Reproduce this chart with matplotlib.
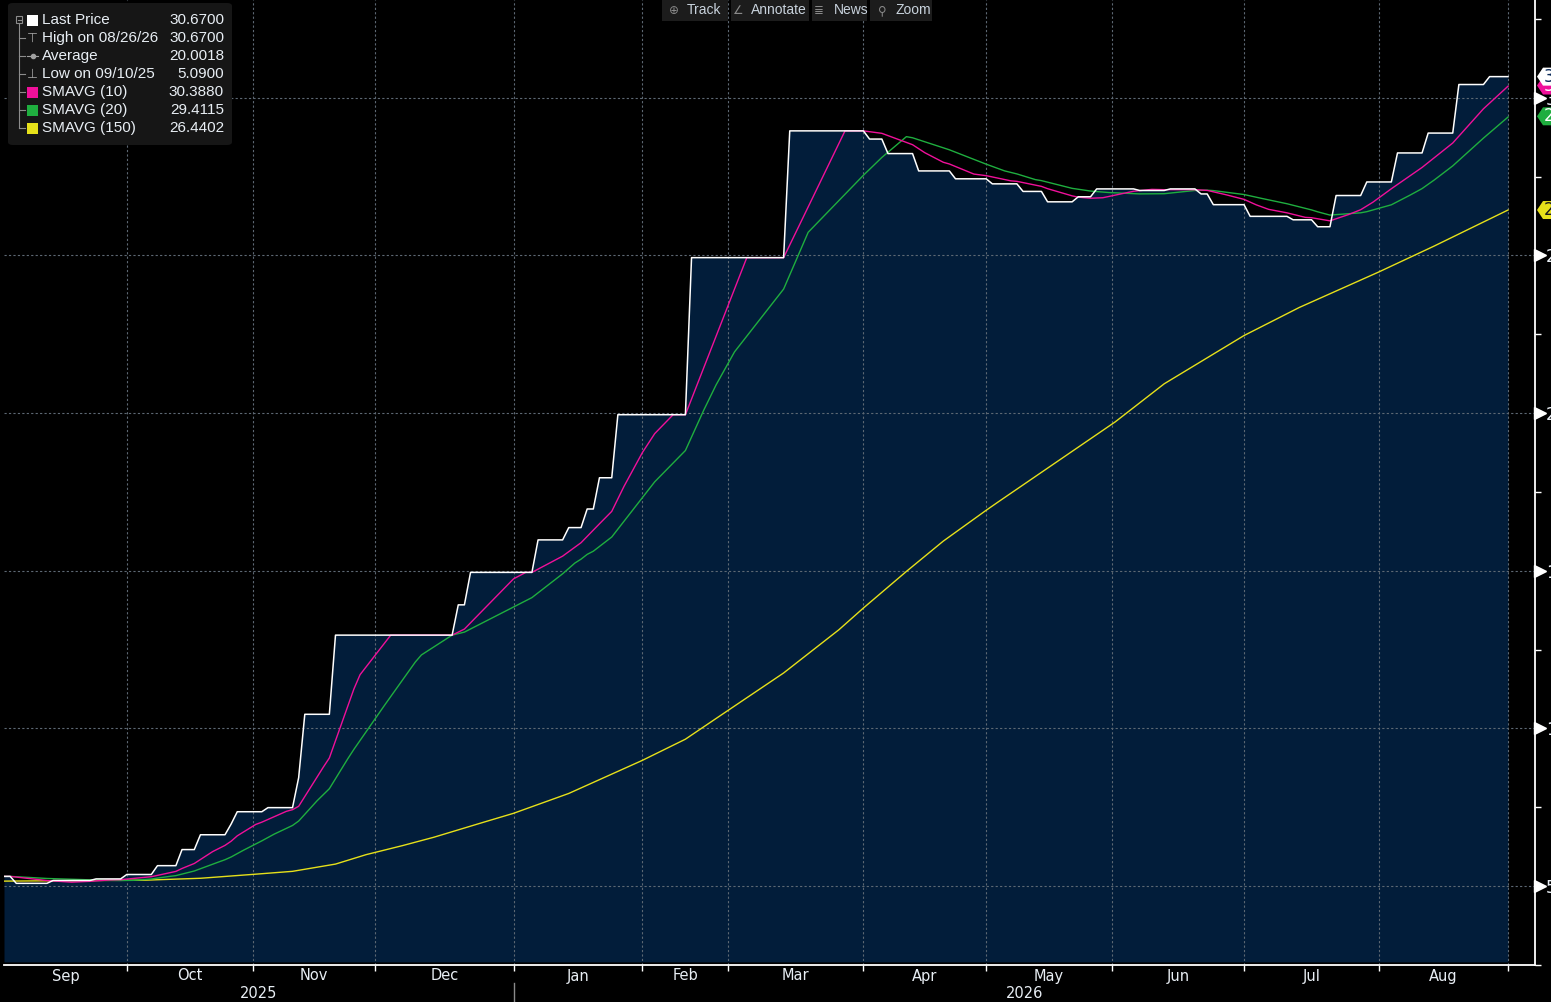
import numpy as np
import pandas as pd
import matplotlib
matplotlib.use("Agg")
import matplotlib.pyplot as plt
from matplotlib.patches import Rectangle, FancyBboxPatch, Polygon
from matplotlib.lines import Line2D
from matplotlib.transforms import IdentityTransform, ScaledTranslation

# ---------------- data ----------------
n_days = 246  # trading days shown, index 0 .. 245
# Last Price as step levels: first trading-day index of each level and its value
level_start_day = [0, 2, 8, 15, 20, 25, 29, 32, 37, 38, 43, 48, 49, 54, 74, 76, 87, 92,
                   95, 97, 100, 112, 128, 141, 144, 149, 155, 161, 166, 170, 175, 178,
                   185, 190, 195, 197, 203, 210, 214, 217, 222, 227, 232, 237, 242]
level_price = [5.31, 5.09, 5.18, 5.23, 5.37, 5.65, 6.16, 6.63, 6.97, 7.36, 7.49, 8.44,
               10.45, 12.96, 13.92, 14.95, 15.98, 16.37, 16.96, 17.95, 19.95, 24.93,
               28.95, 28.69, 28.23, 27.68, 27.43, 27.27, 27.03, 26.70, 26.86, 27.11,
               27.06, 27.11, 26.95, 26.61, 26.24, 26.13, 25.91, 26.90, 27.33, 28.25,
               28.88, 30.42, 30.67]
# closes before the window (level of both short averages at the first day)
pre_window_closes = [5.31] * 19
# SMAVG(150)
sma150_day = [0, 23, 32, 41, 47, 54, 59, 65, 70, 78, 83, 92, 104, 111, 118, 127, 136,
              140, 147, 153, 160, 162, 181, 189, 202, 211, 224, 233, 245]
sma150_val = [5.16, 5.19, 5.25, 5.38, 5.47, 5.70, 6.00, 6.29, 6.55, 7.02, 7.31, 7.94,
              8.99, 9.66, 10.58, 11.76, 13.13, 13.82, 14.98, 15.94, 16.92, 17.19,
              19.72, 20.93, 22.46, 23.35, 24.48, 25.30, 26.44]
# month boundaries (trading-day index) and labels
month_bounds = [20, 40.5, 60.5, 83, 104, 118, 140, 160, 180.5, 202, 224, 245]
month_labels = ["Sep", "Oct", "Nov", "Dec", "Jan", "Feb", "Mar", "Apr", "May", "Jun", "Jul", "Aug"]
year_labels = ["2025", "2026"]
y_ticks = [5, 10, 15, 20, 25, 30]
legend_names = ["Last Price", "High on 08/26/26", "Average", "Low on 09/10/25",
                "SMAVG (10)", "SMAVG (20)", "SMAVG (150)"]
legend_values = [30.6700, 30.6700, 20.0018, 5.0900, 30.3880, 29.4115, 26.4402]
toolbar_items = ["Track", "Annotate", "News", "Zoom"]

# ---------------- series ----------------
lengths = np.diff(level_start_day + [n_days])
price = np.repeat(level_price, lengths)
days = np.arange(n_days)
hist = pd.Series(np.concatenate([pre_window_closes, price]))
sma10 = hist.rolling(10).mean().to_numpy()[len(pre_window_closes):]
sma20 = hist.rolling(20).mean().to_numpy()[len(pre_window_closes):]

# ---------------- styles ----------------
W, H = 1551, 1002
NAVY = "#021d3a"
MAGENTA = "#f0109a"
GREEN = "#1fae3f"
YELLOW = "#e6e01a"
GRID = "#5d6873"
TXT = "#e8eef4"
plt.rcParams["font.family"] = ["DejaVu Sans"]
LEG_FONT = ["Liberation Sans", "DejaVu Sans"]

fig = plt.figure(figsize=(W / 100, H / 100), dpi=100, facecolor="black")
ax_left, ax_right, ax_bottom = 4, 1535, 965
ax = fig.add_axes([ax_left / W, (H - ax_bottom) / H, (ax_right - ax_left) / W, ax_bottom / H])
ax.set_facecolor("black")
ymin, ymax = 2.6, 33.1
ax.set_ylim(ymin, ymax)
ax.set_xlim(0, 249.4)

ax.fill_between(days, price, ymin, color=NAVY, lw=0, zorder=0.5)
ax.plot(sma150_day, sma150_val, color=YELLOW, lw=1.0, zorder=3)
ax.plot(days, sma20, color=GREEN, lw=1.0, zorder=3.1)
ax.plot(days, sma10, color=MAGENTA, lw=1.0, zorder=3.2)
ax.plot(days, price, color="white", lw=1.1, zorder=3.3)

# grid
ax.set_axisbelow("line")
ax.set_xticks(month_bounds)
ax.set_xticklabels([])
ax.set_yticks(y_ticks)
ax.set_yticklabels([str(v) for v in y_ticks])
ax.grid(True, color=GRID, linestyle=(0, (2, 2)), lw=0.8)
ax.yaxis.tick_right()
ax.tick_params(axis="y", which="major", length=0, pad=8, labelcolor=TXT, labelsize=12)
ax.set_yticks([v + 2.5 for v in [0] + y_ticks], minor=True)
ax.tick_params(axis="y", which="minor", length=4, width=1, color="white", direction="out")
ax.tick_params(axis="x", which="major", length=4, width=1, color="white", direction="out")
for s in ["left", "top"]:
    ax.spines[s].set_visible(False)
for s in ["right", "bottom"]:
    ax.spines[s].set_color("white")
    ax.spines[s].set_linewidth(1.3)

# triangle major ticks on the right axis
ytrans = ax.get_yaxis_transform()
tri_trans = ytrans + ScaledTranslation(5 / 100, 0, fig.dpi_scale_trans)
ax.plot([1] * len(y_ticks), y_ticks, ls="none", marker=">", ms=8, color="white",
        transform=tri_trans, clip_on=False, zorder=5)

# month labels and years
xtrans = ax.get_xaxis_transform()
edges = [0] + month_bounds
for i, lab in enumerate(month_labels):
    ax.text((edges[i] + edges[i + 1]) / 2, -11 / ax_bottom, lab, transform=xtrans,
            ha="center", va="center", color=TXT, fontsize=10.5, clip_on=False)
jan = month_bounds[3]
ax.text(jan / 2, -28 / ax_bottom, year_labels[0], transform=xtrans, ha="center",
        va="center", color=TXT, fontsize=10.5, clip_on=False)
ax.text((jan + ax.get_xlim()[1]) / 2, -28 / ax_bottom, year_labels[1], transform=xtrans,
        ha="center", va="center", color=TXT, fontsize=10.5, clip_on=False)
ax.add_line(Line2D([jan, jan], [-18 / ax_bottom, -40 / ax_bottom], transform=xtrans,
                   color="#8a8a8a", lw=1, clip_on=False))

# ---------------- right-edge value tags ----------------
fig.canvas.draw()
xr = ax.transAxes.transform((1, 0))[0]
tags = [(legend_values[6], YELLOW, "#1a1a1a"), (legend_values[5], GREEN, "white"),
        (legend_values[4], MAGENTA, "white"), (legend_values[0], "white", "#0a2a5a")]
for val, fc, tc in tags:
    yc = ax.transData.transform((0, val))[1]
    poly = Polygon([(xr + 2, yc), (xr + 8, yc + 9), (xr + 60, yc + 9), (xr + 60, yc - 9),
                    (xr + 8, yc - 9)], closed=True, fc=fc, ec="none",
                   transform=IdentityTransform())
    fig.add_artist(poly)
    fig.text((xr + 9) / W, yc / H, f"{val:.2f}", color=tc, fontsize=12, va="center",
             ha="left")


def fx(x):
    return x / W


def fy(y):
    return 1 - y / H


# ---------------- legend box ----------------
fig.add_artist(FancyBboxPatch((fx(8), fy(145)), fx(224), 142 / H,
                              boxstyle="round,pad=0,rounding_size=0.003",
                              fc="#161616", ec="none", transform=fig.transFigure, zorder=10))
row_y = [20 + 18 * i for i in range(7)]
tree = "#8c8c8c"
# collapse box and tree lines
fig.add_artist(Rectangle((fx(16), fy(23)), 6 / W, 7 / H, fill=False, ec=tree, lw=0.8,
                         transform=fig.transFigure, zorder=11))
fig.add_artist(Line2D([fx(17.5), fx(20.5)], [fy(19.5), fy(19.5)], color=tree, lw=0.8,
                      transform=fig.transFigure, zorder=11))
fig.add_artist(Line2D([fx(19), fx(19)], [fy(24), fy(row_y[-1])], color=tree, lw=0.8,
                      transform=fig.transFigure, zorder=11))
for ry in row_y[1:]:
    fig.add_artist(Line2D([fx(19), fx(25)], [fy(ry), fy(ry)], color=tree, lw=0.8,
                          transform=fig.transFigure, zorder=11))
# icons
icon_colors = ["white", None, None, None, MAGENTA, GREEN, YELLOW]
for ry, c in zip(row_y, icon_colors):
    if c is not None:
        fig.add_artist(Rectangle((fx(27), fy(ry + 5.5)), 11 / W, 11 / H, fc=c, ec="none",
                                 transform=fig.transFigure, zorder=11))
fig.text(fx(32), fy(row_y[1]), "\u22a4", color="#a0a0a0", fontsize=9, ha="center",
         va="center", zorder=11)
fig.add_artist(Line2D([fx(27), fx(38)], [fy(row_y[2]), fy(row_y[2])], color="#a0a0a0",
                      lw=0.8, transform=fig.transFigure, zorder=11))
fig.add_artist(Line2D([fx(32.5)], [fy(row_y[2])], marker="o", ms=3, color="#a0a0a0",
                      transform=fig.transFigure, zorder=11))
fig.text(fx(32), fy(row_y[3]), "\u22a5", color="#a0a0a0", fontsize=9, ha="center",
         va="center", zorder=11)
for ry, name, val in zip(row_y, legend_names, legend_values):
    fig.text(fx(42), fy(ry), name, color=TXT, fontsize=11, ha="left", va="center",
             zorder=12, family=LEG_FONT)
    fig.text(fx(224), fy(ry), f"{val:.4f}", color=TXT, fontsize=11, ha="right",
             va="center", zorder=12, family=LEG_FONT)

# ---------------- toolbar ----------------
btn_x = [(662, 728), (731, 809), (812, 867), (870, 932)]
icon_x = [674, 738, 819, 882]
text_x = [687, 751, 834, 896]
icons = ["\u2295", "\u2220", "\u2263", "\u26b2"]
for (x0, x1), ix, tx, lab, ic in zip(btn_x, icon_x, text_x, toolbar_items, icons):
    fig.add_artist(Rectangle((fx(x0), fy(21)), (x1 - x0) / W, 21 / H, fc="#1c1c1c",
                             ec="none", transform=fig.transFigure, zorder=10))
    fig.text(fx(ix), fy(10.5), ic, color="#8a8a8a", fontsize=8.5, ha="center",
             va="center", zorder=11, family=["DejaVu Sans"])
    fig.text(fx(tx), fy(10.5), lab, color="#c8d2dc", fontsize=10, ha="left",
             va="center", zorder=11, family=LEG_FONT)

fig.savefig("out.png", dpi=100, facecolor="black")
